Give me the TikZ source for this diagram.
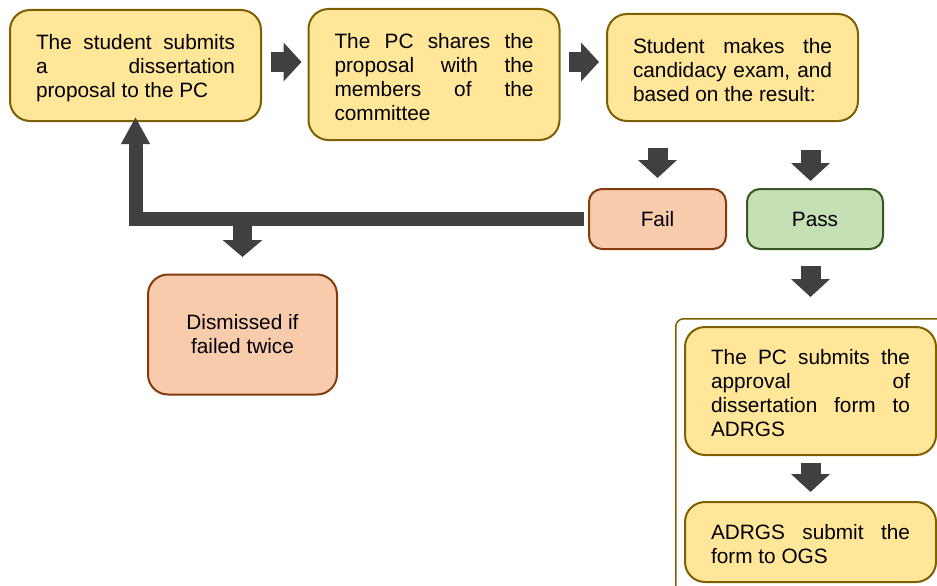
\documentclass[tikz,border=0pt]{standalone}
\usepackage{fontspec}
\setmainfont{Liberation Sans}
\usetikzlibrary{arrows.meta,calc}
\definecolor{ybox}{HTML}{FFE699}
\definecolor{yline}{HTML}{7F6000}
\definecolor{fbox}{HTML}{F8CBAD}
\definecolor{fline}{HTML}{843C0C}
\definecolor{pbox}{HTML}{C5E0B4}
\definecolor{pline}{HTML}{385723}
\definecolor{arr}{HTML}{404040}
\begin{document}
\begin{tikzpicture}[x=1pt,y=-1pt,
  basebox/.style={line width=2pt, inner sep=0pt, font=\fontsize{20.8}{24}\selectfont},
  yellowbox/.style={basebox, rounded corners=20pt, draw=yline, fill=ybox, text width=199pt, align=justify, minimum width=251pt,
    execute at begin node={\hyphenpenalty=10000\rule{0pt}{20pt}}},
  failbox/.style={basebox, rounded corners=13pt, draw=fline, fill=fbox, align=center},
  passbox/.style={basebox, rounded corners=13pt, draw=pline, fill=pbox, align=center},
  blk/.style={draw=arr, line width=20pt, -{Triangle[width=38pt,length=18pt]}},
  blkb/.style={draw=arr, line width=19pt, -{Triangle[width=39pt,length=17pt]}},
  fb/.style={draw=arr, line width=14pt, line join=miter, -{Triangle[width=27pt,length=27pt]}},
  contbox/.style={draw=yline, line width=1.5pt, rounded corners=8pt, fill=white, inner sep=0pt}
]
\useasboundingbox (0,0) rectangle (937,586);
\clip (0,0) rectangle (937,586);

\node[yellowbox, minimum height=111pt] (b1) at (135.5,65.5)
  {The student submits\linebreak a dissertation\linebreak proposal to the PC};
\node[yellowbox, minimum height=131pt] (b2) at (434,74.5)
  {The PC shares the\linebreak proposal with the\linebreak members of the\linebreak committee};
\node[yellowbox, minimum height=107pt] (b3) at (732.5,67.5)
  {Student makes the\linebreak candidacy exam, and\linebreak based on the result:};

\node[failbox, minimum width=137pt, minimum height=60pt] (fail) at (657.5,219) {\raisebox{-2pt}{Fail}};
\node[passbox, minimum width=136pt, minimum height=60pt] (pass) at (815,219) {\raisebox{-2pt}{Pass}};
\node[failbox, rounded corners=20pt, minimum width=189pt, minimum height=120pt] (dism) at (242.5,334.5) {Dismissed if\\failed twice};

\node[contbox, minimum width=280pt, minimum height=290pt, anchor=north west] (cont) at (675,318) {};
\node[yellowbox, minimum height=128pt] (pc) at (810.5,391)
  {The PC submits the\linebreak approval of\linebreak dissertation form to\linebreak ADRGS};
\node[yellowbox, minimum height=80pt] (og) at (810.5,542)
  {ADRGS submit the\linebreak form to OGS};

\coordinate (r1) at (0,62);
\draw[blk, shorten <=9pt, shorten >=6pt] (b1.east |- r1) -- (b2.west |- r1);
\draw[blk, shorten <=8pt, shorten >=7pt] (b2.east |- r1) -- (b3.west |- r1);

\draw[blk, shorten <=26pt, shorten >=10pt] (fail.north |- b3.south) -- (fail.north);
\draw[blk, shorten <=28pt, shorten >=7pt] (pc.north |- b3.south) -- (pc.north |- pass.north);
\draw[blk, shorten <=16pt, shorten >=21pt] (pc.north |- pass.south) -- (pc.north |- cont.north);
\draw[blk, shorten <=7pt, shorten >=9pt] (pc.south) -- (og.north);

\draw[blkb, shorten >=16.5pt] (dism.north |- fail.west) -- (dism.north);
\draw[fb, shorten <=4pt, shorten >=-5pt] (fail.west) -| (b1.south);
\end{tikzpicture}
\end{document}
